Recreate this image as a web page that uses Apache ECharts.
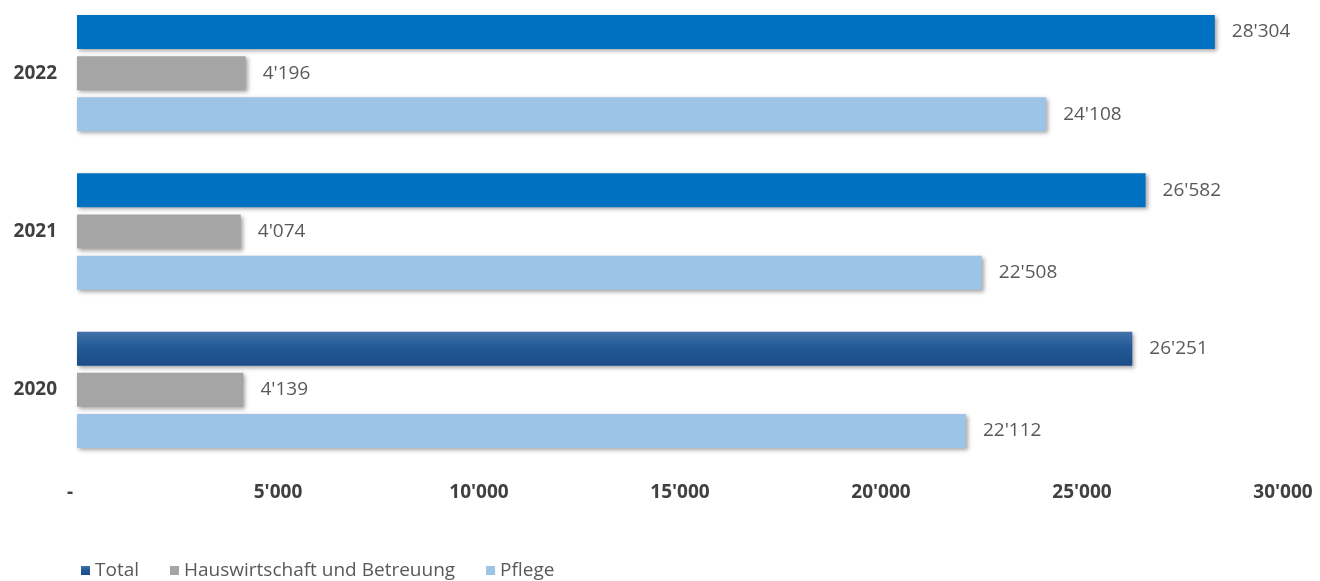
<!DOCTYPE html>
<html>
<head>
<meta charset="utf-8">
<title>Total / Hauswirtschaft und Betreuung / Pflege</title>
<script src="https://cdn.jsdelivr.net/npm/echarts@6/dist/echarts.min.js"></script>
<style>
  html, body { margin: 0; padding: 0; background: #fff; }
  #chart { width: 1320px; height: 581px; }
</style>
</head>
<body>
<div id="chart"></div>
<script>
// data
const years = ['2022', '2021', '2020']
const totalValues = [28304, 26582, 26251]
const hausValues = [4196, 4074, 4139]
const pflegeValues = [24108, 22508, 22112]
const xMin = 0
const xMax = 30000
const xStep = 5000

const FONT = "'Open Sans', 'Noto Sans', sans-serif"

function fmt(v) {
  if (v === 0) return '-'
  return String(Math.round(v)).replace(/\B(?=(\d{3})+(?!\d))/g, "'")
}

const shadow = {
  shadowColor: 'rgba(0,0,0,0.35)',
  shadowBlur: 4,
  shadowOffsetX: 2,
  shadowOffsetY: 2,
}

const darkGradient = new echarts.graphic.LinearGradient(0, 0, 0, 1, [
  { offset: 0, color: '#4573a9' },
  { offset: 0.45, color: '#225a97' },
  { offset: 1, color: '#1b4d88' },
])

// 2022 and 2021 totals are plain blue, 2020 keeps the dark gradient
const totalData = totalValues.map((v, i) =>
  years[i] === '2020' ? { value: v } : { value: v, itemStyle: { color: '#0070c0' } }
)

const valueLabel = {
  show: true,
  position: 'right',
  distance: 17,
  color: '#595959',
  fontFamily: FONT,
  fontSize: 19,
  formatter: (p) => fmt(p.value),
}

const axisFont = {
  color: '#404040',
  fontWeight: 'bold',
  fontSize: 19,
  fontFamily: FONT,
}

const chart = echarts.init(document.getElementById('chart'))
chart.setOption({
  animation: false,
  textStyle: { fontFamily: FONT },
  legend: {
    left: 76,
    top: 556,
    icon: 'rect',
    itemWidth: 9,
    itemHeight: 9,
    itemGap: 31,
    textStyle: { color: '#595959', fontSize: 19, fontFamily: FONT },
    data: ['Total', 'Hauswirtschaft und Betreuung', 'Pflege'],
  },
  grid: { left: 77, right: 37, top: -6, height: 475, outerBoundsMode: 'none' },
  xAxis: {
    type: 'value',
    min: xMin,
    max: xMax,
    interval: xStep,
    axisLine: { show: false },
    axisTick: { show: false },
    splitLine: { show: false },
    axisLabel: Object.assign({
      margin: 14,
      formatter: (v) => (v === 0 ? '{dash|-}' : fmt(v)),
      rich: { dash: Object.assign({ padding: [0, 14, 0, 0] }, axisFont) },
    }, axisFont),
  },
  yAxis: {
    type: 'category',
    inverse: true,
    data: years,
    axisLine: { show: false },
    axisTick: { show: false },
    axisLabel: Object.assign({ margin: 20 }, axisFont),
  },
  series: [
    {
      name: 'Total',
      type: 'bar',
      barWidth: 34,
      barGap: '21%',
      data: totalData,
      itemStyle: Object.assign({ color: darkGradient }, shadow),
      label: valueLabel,
    },
    {
      name: 'Hauswirtschaft und Betreuung',
      type: 'bar',
      barWidth: 34,
      barGap: '21%',
      data: hausValues,
      itemStyle: Object.assign({ color: '#a5a5a5' }, shadow),
      label: valueLabel,
    },
    {
      name: 'Pflege',
      type: 'bar',
      barWidth: 34,
      barGap: '21%',
      data: pflegeValues,
      itemStyle: Object.assign({ color: '#9dc3e6' }, shadow),
      label: valueLabel,
    },
  ],
})
</script>
</body>
</html>
